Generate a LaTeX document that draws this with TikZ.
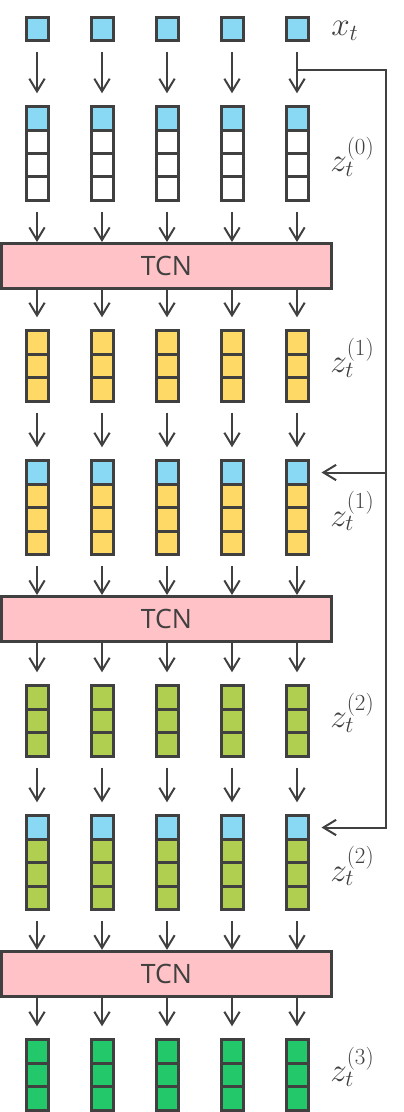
\documentclass[tikz,border=0pt]{standalone}
\usepackage{fontspec}
\setsansfont{Open Sans}
\usetikzlibrary{arrows.meta}
\definecolor{edge}{HTML}{404040}
\definecolor{xblue}{HTML}{89D8F4}
\definecolor{zyellow}{HTML}{FFD966}
\definecolor{zlime}{HTML}{B0CE50}
\definecolor{zgreen}{HTML}{22C86A}
\definecolor{tcnpink}{HTML}{FFC2C6}
\tikzset{
  cell/.style={draw=edge, line width=2.25pt, minimum width=16.5pt, minimum height=17.55pt, inner sep=0pt},
  tcnbox/.style={draw=edge, fill=tcnpink, line width=2.25pt, minimum width=247.5pt, minimum height=34pt,
    font=\sffamily\fontsize{20}{24}\selectfont, text=edge},
  arr/.style={draw=edge, line width=1.5pt, -{Straight Barb[length=9.5pt,width=11.5pt]},
    shorten <=7.5pt, shorten >=9pt},
  lbl/.style={anchor=base west, inner sep=0pt, text=edge, font=\fontsize{24}{28}\selectfont}
}
\begin{document}
\begin{tikzpicture}[x=0.75pt,y=-0.75pt]
  \useasboundingbox (0,0) rectangle (403,1112);
  \foreach \i/\x in {1/37,2/102,3/167,4/232,5/297} {
    \node[cell,fill=xblue] (x-\i) at (\x,29.2) {};
  }
  \foreach \row/\ty/\col in {z0/106.8/white,z1p/460.8/zyellow,z2p/815.8/zlime} {
    \foreach \i/\x in {1/37,2/102,3/167,4/232,5/297} {
      \node[cell,fill=xblue] (\row-\i-1) at (\x,\ty+11.7) {};
      \foreach \k in {2,3,4}
        \node[cell,fill=\col] (\row-\i-\k) at (\x,\ty+\k*23.4-11.7) {};
    }
  }
  \foreach \row/\ty/\col in {z1/330.8/zyellow,z2/685.8/zlime,z3/1039.8/zgreen} {
    \foreach \i/\x in {1/37,2/102,3/167,4/232,5/297} {
      \foreach \k in {1,2,3}
        \node[cell,fill=\col] (\row-\i-\k) at (\x,\ty+\k*23.4-11.7) {};
    }
  }
  \node[tcnbox] (tcn1) at (166.5,266.2) {TCN};
  \node[tcnbox] (tcn2) at (166.5,619.2) {TCN};
  \node[tcnbox] (tcn3) at (166.5,974) {TCN};
  \foreach \i in {1,...,5} {
    \draw[arr] (x-\i) -- (z0-\i-1);
    \draw[arr] (z1-\i-3) -- (z1p-\i-1);
    \draw[arr] (z2-\i-3) -- (z2p-\i-1);
    \draw[arr,shorten >=0pt] (z0-\i-4) -- (z0-\i-4 |- tcn1.north);
    \draw[arr,shorten >=0pt] (z1p-\i-4) -- (z1p-\i-4 |- tcn2.north);
    \draw[arr,shorten >=0pt] (z2p-\i-4) -- (z2p-\i-4 |- tcn3.north);
    \draw[arr,shorten <=0pt] (tcn1.south -| z1-\i-1) -- (z1-\i-1);
    \draw[arr,shorten <=0pt] (tcn2.south -| z2-\i-1) -- (z2-\i-1);
    \draw[arr,shorten <=0pt] (tcn3.south -| z3-\i-1) -- (z3-\i-1);
  }
  \coordinate (tap) at (297,70);
  \coordinate (rail) at (385.7,70);
  \draw[arr,shorten <=0pt] (tap) -- (rail) -- (rail |- z2p-5-1) -- (z2p-5-1);
  \draw[arr,shorten <=0pt] (rail |- z1p-5-1) -- (z1p-5-1);
  \node[lbl] (lx) at ([shift={(34,6)}]x-5.center) {$x_t$};
  \node[lbl] (l0) at ([shift={(33,6.7)}]z0-5-3.center) {$z_t^{(0)}$};
  \node[lbl] (l1) at ([shift={(33,6.7)}]z1-5-2.center) {$z_t^{(1)}$};
  \node[lbl] (l1p) at ([shift={(33,6.7)}]z1p-5-3.center) {$z_t^{(1)}$};
  \node[lbl] (l2) at ([shift={(33,6.7)}]z2-5-2.center) {$z_t^{(2)}$};
  \node[lbl] (l2p) at ([shift={(33,6.7)}]z2p-5-3.center) {$z_t^{(2)}$};
  \node[lbl] (l3) at ([shift={(33,6.7)}]z3-5-2.center) {$z_t^{(3)}$};
\end{tikzpicture}
\end{document}
